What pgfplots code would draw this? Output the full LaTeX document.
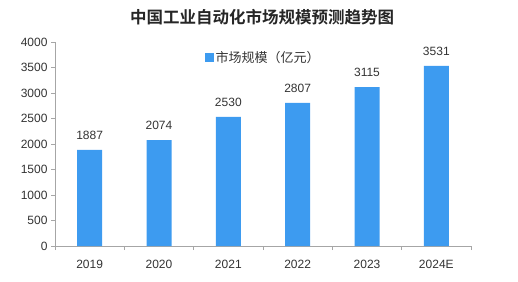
\documentclass[border=0pt]{standalone}
\usepackage{pgfplots}
\pgfplotsset{compat=1.18}
\usepackage{fontspec}
\setmainfont{Liberation Sans}
\newfontfamily\cjk{Noto Sans CJK SC}
\newfontfamily\cjkb{Noto Sans CJK SC Bold}
\definecolor{barblue}{HTML}{3D9BF0}
\definecolor{axgray}{HTML}{A6A6A6}
\definecolor{txt}{HTML}{333333}
\begin{document}
\begin{tikzpicture}[x=1pt,y=1pt]
\useasboundingbox (0,0) rectangle (518,281);
\node[font=\cjkb\fontsize{16.5}{18}\selectfont, text=black!85] at (262,264) {中国工业自动化市场规模预测趋势图};
\begin{axis}[
  at={(55pt,35pt)}, anchor=south west,
  scale only axis, width=416pt, height=204pt,
  ymin=0, ymax=4000, ytick={0,500,...,4000},
  xmin=-0.5, xmax=5.5,
  xtick={-0.5,0.5,...,5.5},
  xticklabels={2019,2020,2021,2022,2023,2024E},
  x tick label as interval,
  axis x line=bottom, axis y line=left,
  axis line style={axgray,-}, 
  tick style={axgray, thin},
  major tick length=4pt,
  xtick pos=bottom, ytick pos=left,
  every tick/.style={axgray},
  xticklabel style={text=txt, font=\fontsize{12}{13}\selectfont, yshift=-7pt},
  yticklabel style={text=txt, font=\fontsize{12}{13}\selectfont},
  /pgf/number format/assume math mode=true,
  /pgf/number format/1000 sep={},
  ybar, bar width=25pt,
  nodes near coords,
  nodes near coords style={text=txt, font=\fontsize{12}{13}\selectfont, /pgf/number format/1000 sep={}, yshift=7pt},
  legend style={at={(0.5,0.975)}, anchor=north, draw=none, fill=none, font=\cjk\fontsize{13}{14}\selectfont, text=txt, legend cell align=left},
  legend image code/.code={\fill[barblue] (0pt,-4pt) rectangle (9pt,5pt);},
  tick align=outside,
  clip=false,
]
\addplot[fill=barblue, draw=none] coordinates {(0,1887) (1,2074) (2,2530) (3,2807) (4,3115) (5,3531)};
\addlegendentry{市场规模（亿元）}
\end{axis}
\end{tikzpicture}
\end{document}
